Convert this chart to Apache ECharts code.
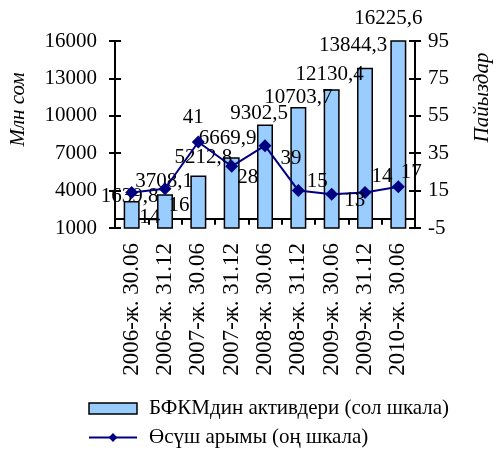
<!DOCTYPE html>
<html><head><meta charset="utf-8">
<script src="https://cdn.jsdelivr.net/npm/echarts@6/dist/echarts.min.js"></script>
<style>html,body{margin:0;padding:0;background:#fff}#c{width:501px;height:457px}</style>
</head><body><div id="c"></div>
<script>
const categories = ['2006-ж. 30.06','2006-ж. 31.12','2007-ж. 30.06','2007-ж. 31.12','2008-ж. 30.06','2008-ж. 31.12','2009-ж. 30.06','2009-ж. 31.12','2010-ж. 30.06'];
const assets = [3160, 3708.1, 5212.8, 6669.9, 9302.5, 10703.7, 12130.4, 13844.3, 16225.6];
const assetLabels = ['1639,8','3708,1','5212,8','6669,9','9302,5','10703,7','12130,4','13844,3','16225,6'];
const growth = [14, 16, 41, 28, 39, 15, 13, 14, 17];
const leftTicks = [1000, 4000, 7000, 10000, 13000, 16000];
const rightTicks = [-5, 15, 35, 55, 75, 95];
const seriesNames = ['БФКМдин активдери (сол шкала)', 'Өсүш арымы (оң шкала)'];

// label placement tweaks (layout only)
const barLabelShift = [[-2,6],[-1,-2],[5,-7],[-4,-8],[-6,-1],[0,1],[-2,-4],[-12,-12],[-10,-11]];
const lineLabelShift = [[18,25],[14,17],[-5,-24],[16,11],[26,13],[19,-9],[23,6],[17,-16],[13,-14]];

const FONT = '"Liberation Serif","Times New Roman",serif';
const FS = 21;
const chart = echarts.init(document.getElementById('c'), null, {renderer:'canvas'});

function tickAxis(pos, min, max, ticks, showLabel, inside, margin) {
  return {
    type:'value', position:pos, min:min, max:max, offset:0,
    splitLine:{show:false},
    axisLine:{show:showLabel, lineStyle:{color:'#000', width:2}},
    axisTick:{show:true, inside:inside, length:6, customValues:ticks, lineStyle:{color:'#000', width:2}},
    axisLabel:{show:showLabel, customValues:ticks, color:'#000', fontFamily:FONT, fontSize:FS, margin:margin,
      formatter:v=>String(v)}
  };
}

const yLeft = tickAxis('left', 1000, 16000, leftTicks, true, false, 18);
yLeft.name = 'Млн сом';
yLeft.nameLocation = 'middle';
yLeft.nameGap = 86;
yLeft.nameRotate = 90;
yLeft.nameTextStyle = {fontFamily:FONT, fontSize:FS, fontStyle:'italic', color:'#000', padding:[0,0,0,50]};
const yRight = tickAxis('right', -5, 95, rightTicks, true, false, 13);
yRight.name = 'Пайыздар';
yRight.nameLocation = 'middle';
yRight.nameGap = 57;
yRight.nameRotate = 90;
yRight.nameTextStyle = {fontFamily:FONT, fontSize:FS, fontStyle:'italic', color:'#000', padding:[0,0,0,74]};
const yLeftIn = tickAxis('left', 1000, 16000, leftTicks, false, true, 8);
const yRightIn = tickAxis('right', -5, 95, rightTicks, false, true, 8);

chart.setOption({
  animation:false,
  backgroundColor:'#fff',
  grid:{left:113, right:67, top:41, bottom:229, containLabel:false},
  legend:{
    orient:'vertical', left:88, top:398, height:60, padding:0, itemGap:8, itemWidth:48, itemHeight:11,
    textStyle:{fontFamily:FONT, fontSize:FS, color:'#000', padding:[0,0,0,7]},
    data:[
      {name:seriesNames[0], icon:'rect', itemStyle:{color:'#99CCFF', borderColor:'#000', borderWidth:1.5}},
      {name:seriesNames[1]}
    ]
  },
  xAxis:{
    type:'category', data:categories, boundaryGap:true,
    axisLine:{lineStyle:{color:'#000', width:2}},
    axisTick:{show:true, alignWithLabel:false, length:6, lineStyle:{color:'#000', width:2}},
    axisLabel:{rotate:90, interval:0, color:'#000', fontFamily:FONT, fontSize:23, margin:15}
  },
  yAxis:[yLeft, yRight, yLeftIn, yRightIn],
  series:[
    {
      name:seriesNames[0], type:'bar', yAxisIndex:0, barWidth:16, z:2,
      itemStyle:{color:'#99CCFF', borderColor:'#000', borderWidth:1.5},
      data:assets.map((v,i)=>({value:v, label:{offset:barLabelShift[i]}})),
      label:{show:true, position:'top', distance:0, color:'#000', fontFamily:FONT, fontSize:FS,
        formatter:p=>assetLabels[p.dataIndex]}
    },
    {
      name:seriesNames[1], type:'line', yAxisIndex:1, z:3,
      symbol:'diamond', symbolSize:13,
      lineStyle:{color:'#000080', width:2},
      itemStyle:{color:'#000080'},
      data:growth.map((v,i)=>({value:v, label:{offset:lineLabelShift[i]}})),
      label:{show:true, position:'inside', color:'#000', fontFamily:FONT, fontSize:FS}
    }
  ]
});
</script></body></html>
